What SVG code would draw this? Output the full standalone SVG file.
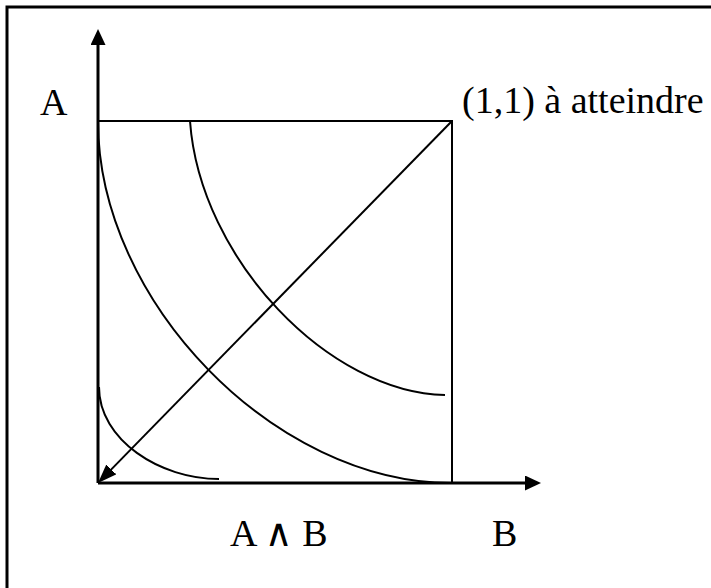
<svg xmlns="http://www.w3.org/2000/svg" width="711" height="588" viewBox="0 0 711 588">
<style>
.ln{fill:none;stroke:#000;stroke-width:2}
.ax{fill:none;stroke:#000;stroke-width:3}
.t{font-family:"Liberation Serif","DejaVu Serif",serif;font-size:38px;fill:#000}
</style>
<defs>
<marker id="ah" markerUnits="userSpaceOnUse" markerWidth="16" markerHeight="15" refX="5" refY="7.5" orient="auto">
<path d="M0,0 L16,7.5 L0,15 z" fill="#000"/>
</marker>
<marker id="ahd" markerUnits="userSpaceOnUse" markerWidth="19" markerHeight="14" refX="8" refY="7" orient="auto">
<path d="M0,0 L19,7 L0,14 z" fill="#000"/>
</marker>
</defs>
<rect width="711" height="588" fill="#fff"/>
<path id="border" d="M7,588 V7 H711" fill="none" stroke="#000" stroke-width="3"/>
<g id="square">
<path class="ln" d="M98,121 H452 V483"/>
</g>
<g id="curves">
<path class="ln" d="M98,121 C98,302 275,483 451,483"/>
<path class="ln" d="M190,121 C200,260 330,393 445,395"/>
<path class="ln" d="M99,387 C99,440 160,479 219,479"/>
</g>
<g id="connectors">
<line class="ax" x1="98" y1="483" x2="98" y2="40" marker-end="url(#ah)"/>
<line class="ax" x1="98" y1="483" x2="530" y2="483" marker-end="url(#ah)"/>
<line class="ln" x1="452" y1="121" x2="105.7" y2="475.1" stroke-width="2.5" marker-end="url(#ahd)"/>
</g>
<g id="labels">
<text class="t" x="40" y="115">A</text>
<text class="t" x="462" y="113">(1,1) à atteindre</text>
<text class="t" x="230" y="546">A ∧ B</text>
<text class="t" x="492" y="546">B</text>
</g>
</svg>
